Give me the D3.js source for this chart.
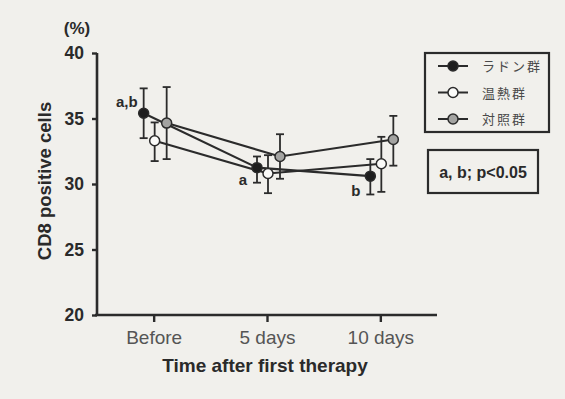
<!DOCTYPE html>
<html><head><meta charset="utf-8">
<script src="https://cdn.jsdelivr.net/npm/d3@7"></script>
<style>
html,body{margin:0;padding:0;background:#f1f0ec;}
svg{display:block;}
</style></head>
<body>
<svg id="chart" width="565" height="399"></svg>
<script>
const categories = ["Before", "5 days", "10 days"];
const seriesNames = ["ラドン群", "温熱群", "対照群"];
const radonMean = [35.4, 31.25, 30.6];
const radonHigh = [37.3, 32.1, 31.9];
const radonLow  = [33.5, 30.1, 29.2];
const heatMean = [33.3, 30.8, 31.55];
const heatHigh = [34.7, 32.2, 33.6];
const heatLow  = [31.75, 29.3, 29.4];
const ctrlMean = [34.65, 32.1, 33.4];
const ctrlHigh = [37.4, 33.8, 35.2];
const ctrlLow  = [31.9, 30.4, 31.4];
const yTicks = [20, 25, 30, 35, 40];
const annotations = [
  {cat: "Before", series: 0, text: "a,b"},
  {cat: "5 days", series: 0, text: "a"},
  {cat: "10 days", series: 0, text: "b"}
];
const noteText = "a, b; p<0.05";

const svg = d3.select("#chart");
const ink = "#2b2b2b";
const font = "Liberation Sans, Arial, sans-serif";
const x = d3.scalePoint().domain(categories).range([97, 437]).padding(0.5);
const y = d3.scaleLinear().domain([20, 40]).range([315, 53]);

const series = [
  {name: seriesNames[0], mean: radonMean, hi: radonHigh, lo: radonLow, fill: "#1e1e1e", dx: -10},
  {name: seriesNames[1], mean: heatMean, hi: heatHigh, lo: heatLow, fill: "#fbfbf9", dx: 1},
  {name: seriesNames[2], mean: ctrlMean, hi: ctrlHigh, lo: ctrlLow, fill: "#a3a3a1", dx: 13}
];

// axes
const yAxis = d3.axisLeft(y).tickValues(yTicks).tickSize(5).tickPadding(8);
const gy = svg.append("g").attr("transform", "translate(97,0)").call(yAxis);
gy.select(".domain").attr("d", `M0,${y(40)}V${y(20)}`).attr("stroke", ink).attr("stroke-width", 2.6);
gy.selectAll(".tick line").attr("stroke", ink).attr("stroke-width", 2.4);
gy.selectAll(".tick text").attr("fill", "#2a2a2a").attr("font-family", font)
  .attr("font-weight", "bold").attr("font-size", 17.5);

const xAxis = d3.axisBottom(x).tickSize(7).tickPadding(9);
const gx = svg.append("g").attr("transform", "translate(0,315)").call(xAxis);
gx.select(".domain").attr("d", "M95,0H437").attr("stroke", ink).attr("stroke-width", 2.6);
gx.selectAll(".tick line").attr("stroke", ink).attr("stroke-width", 2.4);
gx.selectAll(".tick text").attr("fill", "#555").attr("font-family", font)
  .attr("font-size", 19);

// labels
svg.append("text").attr("x", 77).attr("y", 34).attr("text-anchor", "middle")
  .attr("font-family", font).attr("font-weight", "bold").attr("font-size", 17)
  .attr("fill", "#2a2a2a").text("(%)");
svg.append("text").attr("transform", "translate(51,181) rotate(-90)").attr("text-anchor", "middle")
  .attr("font-family", font).attr("font-weight", "bold").attr("font-size", 18.5)
  .attr("fill", "#2a2a2a").text("CD8 positive cells");
svg.append("text").attr("x", 265).attr("y", 372).attr("text-anchor", "middle")
  .attr("font-family", font).attr("font-weight", "bold").attr("font-size", 19)
  .attr("fill", "#2a2a2a").text("Time after first therapy");

// lines
const line = d3.line().x(d => d[0]).y(d => d[1]);
series.forEach(s => {
  const pts = categories.map((c, i) => [x(c) + s.dx, y(s.mean[i])]);
  svg.append("path").attr("d", line(pts)).attr("fill", "none").attr("stroke", ink).attr("stroke-width", 2.1);
});
// error bars
series.forEach(s => {
  categories.forEach((c, i) => {
    const cx = x(c) + s.dx;
    const g = svg.append("g").attr("stroke", ink).attr("stroke-width", 1.8);
    g.append("line").attr("x1", cx).attr("x2", cx).attr("y1", y(s.hi[i])).attr("y2", y(s.lo[i]));
    g.append("line").attr("x1", cx - 4).attr("x2", cx + 4).attr("y1", y(s.hi[i])).attr("y2", y(s.hi[i]));
    g.append("line").attr("x1", cx - 4).attr("x2", cx + 4).attr("y1", y(s.lo[i])).attr("y2", y(s.lo[i]));
  });
});
// markers
series.forEach(s => {
  categories.forEach((c, i) => {
    svg.append("circle").attr("cx", x(c) + s.dx).attr("cy", y(s.mean[i])).attr("r", 5)
      .attr("fill", s.fill).attr("stroke", ink).attr("stroke-width", 1.5);
  });
});
// annotations
annotations.forEach(a => {
  const s = series[a.series];
  const i = categories.indexOf(a.cat);
  let ax, ay;
  if (i === 0) { ax = x(a.cat) + s.dx - 6; ay = y(s.mean[i]) - 6; }
  else { ax = x(a.cat) + s.dx - 10; ay = y(s.lo[i]) + 2; }
  svg.append("text").attr("x", ax).attr("y", ay).attr("text-anchor", "end")
    .attr("font-family", font).attr("font-weight", "bold").attr("font-size", 15)
    .attr("fill", "#2a2a2a").text(a.text);
});

// legend
const lg = svg.append("g");
lg.append("rect").attr("x", 425).attr("y", 53).attr("width", 124).attr("height", 79)
  .attr("fill", "none").attr("stroke", ink).attr("stroke-width", 2.2);
series.forEach((s, i) => {
  const ly = 66 + i * 26.5;
  lg.append("line").attr("x1", 438).attr("x2", 468).attr("y1", ly).attr("y2", ly).attr("stroke", ink).attr("stroke-width", 2);
  lg.append("circle").attr("cx", 453).attr("cy", ly).attr("r", 5).attr("fill", s.fill).attr("stroke", ink).attr("stroke-width", 1.5);
  lg.append("text").attr("x", 482).attr("y", ly + 5).attr("font-family", "Noto Sans CJK JP, sans-serif")
    .attr("font-size", 13).attr("letter-spacing", 2).attr("fill", "#4a4a4a").text(s.name);
});
// note box
svg.append("rect").attr("x", 428).attr("y", 150).attr("width", 110).attr("height", 43)
  .attr("fill", "none").attr("stroke", ink).attr("stroke-width", 2.2);
svg.append("text").attr("x", 483).attr("y", 177.5).attr("text-anchor", "middle")
  .attr("font-family", font).attr("font-weight", "bold").attr("font-size", 16)
  .attr("fill", "#2a2a2a").text(noteText);
</script>
</body></html>
